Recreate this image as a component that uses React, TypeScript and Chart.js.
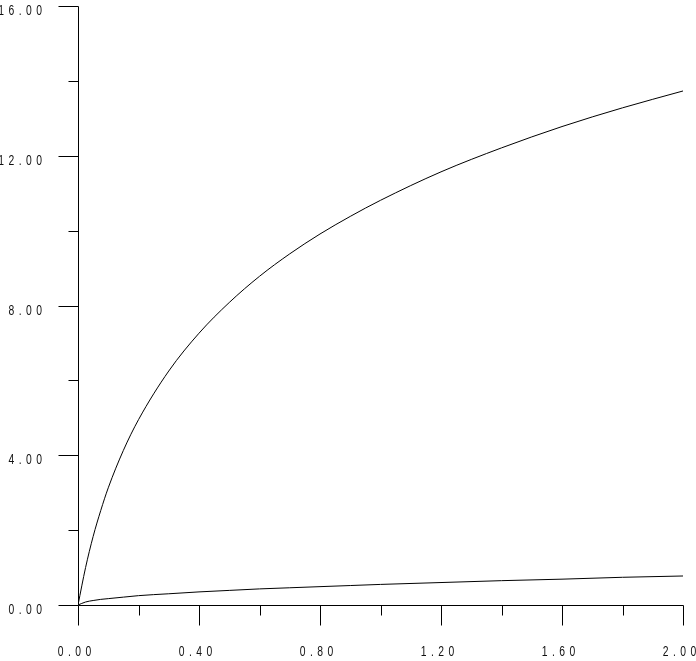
import React, { useEffect, useRef } from "react";
import { Chart, registerables } from "chart.js";

Chart.register(...registerables);

const xValues = [0, 0.025, 0.05, 0.075, 0.1, 0.15, 0.2, 0.3, 0.4, 0.5, 0.6, 0.7, 0.8, 0.9, 1.0, 1.2, 1.4, 1.6, 1.8, 2.0];
const upperCurve = [0, 1.0, 1.83, 2.52, 3.13, 4.13, 4.95, 6.25, 7.26, 8.08, 8.78, 9.38, 9.91, 10.38, 10.81, 11.57, 12.21, 12.78, 13.28, 13.73];
const lowerCurve = [0, 0.08, 0.12, 0.15, 0.17, 0.21, 0.25, 0.3, 0.35, 0.39, 0.43, 0.46, 0.49, 0.52, 0.55, 0.6, 0.65, 0.69, 0.74, 0.775];

const xMajorTicks = [0, 0.4, 0.8, 1.2, 1.6, 2.0];
const xMajorLabels = ["0.00", "0.40", "0.80", "1.20", "1.60", "2.00"];
const xMinorTicks = [0.2, 0.6, 1.0, 1.4, 1.8];
const yMajorTicks = [0, 4, 8, 12, 16];
const yMajorLabels = ["0.00", "4.00", "8.00", "12.00", "16.00"];
const yMinorTicks = [2, 6, 10, 14];

const LABEL_FONT = "14px 'Liberation Sans', Arial, sans-serif";
const SX = 0.74;

const axesPlugin = {
  id: "customAxes",
  afterDraw(chart: any) {
    const ctx = chart.ctx as CanvasRenderingContext2D;
    const xs = chart.scales.x;
    const ys = chart.scales.y;
    const ax = Math.round(xs.getPixelForValue(0)) + 0.5;
    const ay = Math.round(ys.getPixelForValue(0)) + 0.5;
    const xEnd = Math.round(xs.getPixelForValue(2)) + 0.5;
    const yTop = Math.round(ys.getPixelForValue(16)) + 0.5;
    ctx.save();
    ctx.strokeStyle = "#000";
    ctx.lineWidth = 1;
    ctx.beginPath();
    ctx.moveTo(ax, yTop);
    ctx.lineTo(ax, ay);
    ctx.moveTo(ax, ay);
    ctx.lineTo(xEnd, ay);
    xMajorTicks.forEach((v) => {
      const px = Math.round(xs.getPixelForValue(v)) + 0.5;
      ctx.moveTo(px, ay);
      ctx.lineTo(px, ay + 20);
    });
    xMinorTicks.forEach((v) => {
      const px = Math.round(xs.getPixelForValue(v)) + 0.5;
      ctx.moveTo(px, ay);
      ctx.lineTo(px, ay + 10);
    });
    yMajorTicks.forEach((v) => {
      const py = Math.round(ys.getPixelForValue(v)) + 0.5;
      ctx.moveTo(ax, py);
      ctx.lineTo(ax - 20, py);
    });
    yMinorTicks.forEach((v) => {
      const py = Math.round(ys.getPixelForValue(v)) + 0.5;
      ctx.moveTo(ax, py);
      ctx.lineTo(ax - 10, py);
    });
    ctx.stroke();
    ctx.restore();

    // labels, horizontally condensed
    ctx.save();
    ctx.scale(SX, 1);
    ctx.fillStyle = "#111";
    ctx.font = LABEL_FONT;
    (ctx as any).letterSpacing = "6px";
    ctx.textBaseline = "alphabetic";
    ctx.textAlign = "center";
    xMajorTicks.forEach((v, i) => {
      const px = xs.getPixelForValue(v);
      ctx.fillText(xMajorLabels[i], (px - 1.3) / SX, ay + 50);
    });
    ctx.textAlign = "right";
    yMajorTicks.forEach((v, i) => {
      const py = ys.getPixelForValue(v);
      ctx.fillText(yMajorLabels[i], 46.5 / SX, py + 9);
    });
    ctx.restore();
  },
};

export default function App() {
  const canvasRef = useRef<HTMLCanvasElement | null>(null);

  useEffect(() => {
    const canvas = canvasRef.current;
    if (!canvas) return;
    const toPoints = (ys: number[]) => xValues.map((x, i) => ({ x, y: ys[i] }));
    const chart = new Chart(canvas, {
      type: "line",
      data: {
        datasets: [
          {
            label: "upper",
            data: toPoints(upperCurve),
            borderColor: "#000",
            borderWidth: 1,
            pointRadius: 0,
            fill: false,
            cubicInterpolationMode: "monotone",
          },
          {
            label: "lower",
            data: toPoints(lowerCurve),
            borderColor: "#000",
            borderWidth: 1,
            pointRadius: 0,
            fill: false,
            cubicInterpolationMode: "monotone",
          },
        ],
      },
      options: {
        animation: false,
        responsive: false,
        maintainAspectRatio: false,
        devicePixelRatio: 1,
        layout: { padding: { top: 6, right: 13, left: 0, bottom: 0 } },
        plugins: {
          legend: { display: false },
          tooltip: { enabled: false },
        },
        events: [],
        scales: {
          x: {
            type: "linear",
            min: 0,
            max: 2,
            grid: { display: false },
            border: { display: false },
            ticks: { display: false },
            afterFit: (scale: any) => {
              scale.height = 56;
            },
          },
          y: {
            type: "linear",
            min: 0,
            max: 16,
            grid: { display: false },
            border: { display: false },
            ticks: { display: false },
            afterFit: (scale: any) => {
              scale.width = 78;
            },
          },
        },
      } as any,
      plugins: [axesPlugin],
    });
    return () => chart.destroy();
  }, []);

  return (
    <div style={{ position: "absolute", left: 0, top: 0, width: 696, height: 661, background: "#fff" }}>
      <canvas ref={canvasRef} width={696} height={661} style={{ display: "block", width: 696, height: 661 }} />
    </div>
  );
}
